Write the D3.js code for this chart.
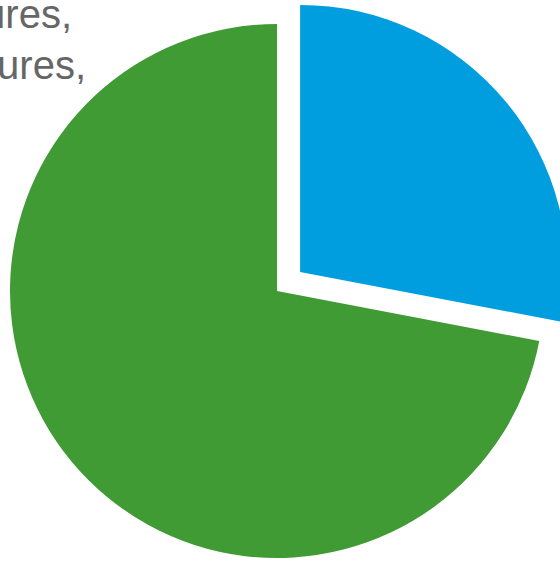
<!DOCTYPE html>
<html>
<head>
<meta charset="utf-8">
<script src="https://cdn.jsdelivr.net/npm/d3@7"></script>
<style>
  body { margin: 0; background: #fff; }
  svg { display: block; }
</style>
</head>
<body>
<svg id="canvas"></svg>
<script>
    // slice data (blue piece is pulled out)
    const categories = ["Blue group", "Green group"];
    const values = [28, 72];
    const colors = ["#009ede", "#409b35"];
    const exploded = [true, false];
    // caption lines, cut at the left edge in the original
    const textLines = ["Structures,", "Fixtures,"];
    const textEnds = [72, 86];

    const width = 560;
    const height = 561;
    const radius = 267;
    const cx = 277, cy = 291;
    const pull = 30;

    const svg = d3.select("#canvas")
      .attr("width", width)
      .attr("height", height);

    const pie = d3.pie()
      .sort(null)
      .value(d => d.value);

    const arc = d3.arc()
      .innerRadius(0)
      .outerRadius(radius);

    const data = categories.map((c, i) => ({ name: c, value: values[i], color: colors[i], out: exploded[i] }));

    const chartArea = svg.append("g")
      .attr("transform", `translate(${cx},${cy})`);

    chartArea.selectAll(".slice")
      .data(pie(data))
      .enter().append("path")
        .attr("class", "slice")
        .attr("d", arc)
        .attr("fill", d => d.data.color)
        .attr("transform", d => {
          if (!d.data.out) return null;
          const mid = (d.startAngle + d.endAngle) / 2;
          return `translate(${pull * Math.sin(mid)},${-pull * Math.cos(mid)})`;
        });

    svg.selectAll(".caption")
      .data(textLines)
      .enter().append("text")
        .attr("class", "caption")
        .attr("x", (d, i) => textEnds[i])
        .attr("y", (d, i) => 28 + i * 51)
        .attr("text-anchor", "end")
        .attr("font-family", "Liberation Sans, Arial, sans-serif")
        .attr("font-size", 40)
        .attr("fill", "#666666")
        .text(d => d);
</script>
</body>
</html>
